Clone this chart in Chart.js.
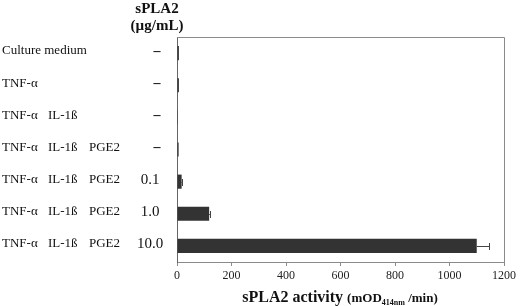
<!DOCTYPE html>
<html>
<head>
<meta charset="utf-8">
<script src="https://cdn.jsdelivr.net/npm/chart.js@4/dist/chart.umd.min.js"></script>
<style>
  html, body { margin: 0; padding: 0; background: #fff; }
  #wrap { width: 520px; height: 306px; position: relative; }
</style>
</head>
<body>
<div id="wrap"><canvas id="chart"></canvas></div>
<script>
// Treatment columns (one row per bar)
const agent1 = ['Culture medium', 'TNF-α', 'TNF-α', 'TNF-α', 'TNF-α', 'TNF-α', 'TNF-α'];
const agent2 = ['', '', 'IL-1ß', 'IL-1ß', 'IL-1ß', 'IL-1ß', 'IL-1ß'];
const agent3 = ['', '', '', 'PGE2', 'PGE2', 'PGE2', 'PGE2'];
const doses = ['–', '–', '–', '–', '0.1', '1.0', '10.0'];

// sPLA2 activity (mOD414nm/min) and error
const activity = [7, 7, 3, 6, 17, 118, 1100];
const errors = [0, 0, 0, 0, 3, 4, 44];

const xTicks = [0, 200, 400, 600, 800, 1000, 1200];

const labels = agent1.map((a, i) => [a, agent2[i], agent3[i], doses[i]].join(' ').trim());

const SERIF = '"Liberation Serif", "Times New Roman", serif';

// Texte à gauche, cadre, barres d'erreur et titre de l'axe x
const decorPlugin = {
  id: 'decor',
  afterDatasetsDraw(chart) {
    const { ctx, chartArea, scales } = chart;
    const x = scales.x, y = scales.y;
    ctx.save();

    // error bars
    ctx.strokeStyle = '#444';
    ctx.lineWidth = 1;
    activity.forEach((v, i) => {
      if (!errors[i]) return;
      const cy = Math.round(y.getPixelForValue(i));
      const x0 = x.getPixelForValue(v);
      const x1 = Math.round(x.getPixelForValue(v + errors[i])) + 0.5;
      ctx.beginPath();
      ctx.moveTo(x0, cy + 0.5);
      ctx.lineTo(x1, cy + 0.5);
      ctx.moveTo(x1, cy - 3);
      ctx.lineTo(x1, cy + 4);
      ctx.stroke();
    });

    // top and right frame
    ctx.strokeStyle = '#8a8a8a';
    ctx.beginPath();
    ctx.moveTo(chartArea.left, chartArea.top + 0.5);
    ctx.lineTo(chartArea.right + 0.5, chartArea.top + 0.5);
    ctx.lineTo(chartArea.right + 0.5, chartArea.bottom);
    ctx.stroke();

    // row labels
    ctx.fillStyle = '#111';
    ctx.textBaseline = 'middle';
    agent1.forEach((a, i) => {
      const cy = y.getPixelForValue(i) - 2;
      ctx.font = '13px ' + SERIF;
      ctx.textAlign = 'left';
      ctx.fillText(a, 2, cy);
      if (agent2[i]) ctx.fillText(agent2[i], 48, cy);
      if (agent3[i]) ctx.fillText(agent3[i], 89, cy);
      ctx.textAlign = 'center';
      if (doses[i] === '–') {
        ctx.font = 'bold 14px ' + SERIF;
        ctx.fillText(doses[i], 157, cy);
      } else {
        ctx.font = '15px ' + SERIF;
        ctx.fillText(doses[i], 150, cy);
      }
    });

    // dose header
    ctx.textAlign = 'center';
    ctx.font = 'bold 15px ' + SERIF;
    ctx.fillText('sPLA2', 157, 9);
    ctx.fillText('(µg/mL)', 157, 26);

    // x axis title with subscript
    const parts = [
      { t: 'sPLA2 activity ', f: 'bold 16px ' + SERIF, dy: 0 },
      { t: '(mOD', f: 'bold 13px ' + SERIF, dy: 0 },
      { t: '414nm', f: 'bold 8px ' + SERIF, dy: 3 },
      { t: ' /min)', f: 'bold 13px ' + SERIF, dy: 0 }
    ];
    let total = 0;
    parts.forEach(p => { ctx.font = p.f; p.w = ctx.measureText(p.t).width; total += p.w; });
    let px = 340 - total / 2;
    ctx.textAlign = 'left';
    ctx.textBaseline = 'alphabetic';
    parts.forEach(p => {
      ctx.font = p.f;
      ctx.fillText(p.t, px, 302 + p.dy);
      px += p.w;
    });

    ctx.restore();
  }
};

new Chart(document.getElementById('chart'), {
  type: 'bar',
  data: {
    labels: labels,
    datasets: [{
      data: activity,
      backgroundColor: '#333333',
      borderWidth: 0,
      categoryPercentage: 1,
      barPercentage: 0.44
    }]
  },
  options: {
    indexAxis: 'y',
    responsive: true,
    maintainAspectRatio: false,
    animation: false,
    layout: { padding: { top: 37, right: 16, left: 0, bottom: 0 } },
    plugins: {
      legend: { display: false },
      tooltip: { enabled: false }
    },
    scales: {
      x: {
        min: 0,
        max: 1200,
        afterBuildTicks: s => { s.ticks = xTicks.map(v => ({ value: v })); },
        afterFit: s => { s.height = 44; },
        ticks: {
          color: '#222',
          padding: 3,
          maxRotation: 0,
          callback: v => String(v),
          font: { family: SERIF, size: 12 }
        },
        grid: { drawOnChartArea: false, drawTicks: true, tickLength: 4, color: '#8a8a8a' },
        border: { color: '#8a8a8a' }
      },
      y: {
        afterFit: s => { s.width = 177; },
        ticks: { display: false },
        grid: { display: false },
        border: { color: '#666' }
      }
    }
  },
  plugins: [decorPlugin]
});
</script>
</body>
</html>
